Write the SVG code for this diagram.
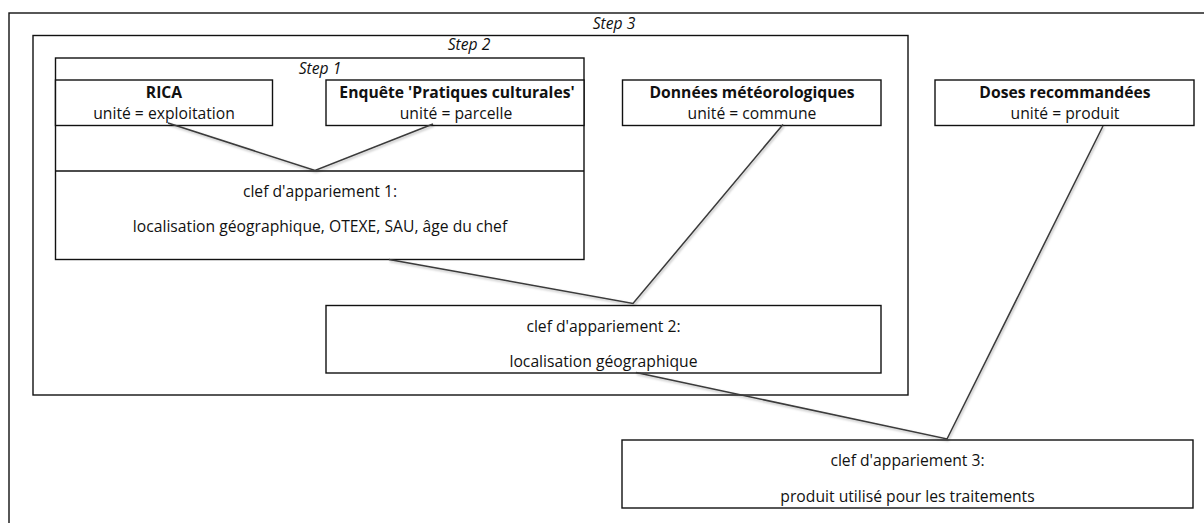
<svg xmlns="http://www.w3.org/2000/svg" width="1204" height="523" viewBox="0 0 1204 523">
<defs>
<style>
.frame{fill:none;stroke:#111;stroke-width:1.4}
.box{fill:#fff;stroke:#111;stroke-width:1.4}
.t{font-family:"Open Sans","Liberation Sans",sans-serif;font-size:15.7px;fill:#111;text-anchor:middle}
.b{font-weight:bold}
.i{font-style:italic}
.conn{stroke:#3a3a3a;stroke-width:1.5;fill:none}
</style>
<filter id="sh" x="-20%" y="-20%" width="140%" height="140%">
<feDropShadow dx="1" dy="1.5" stdDeviation="1" flood-color="#000" flood-opacity="0.3"/>
</filter>
</defs>
<rect width="1204" height="523" fill="#fff"/>
<g id="step3">
<rect class="frame" x="9" y="13" width="1300" height="600"/>
<text class="t i" x="614" y="29">Step 3</text>
</g>
<g id="step2">
<rect class="frame" x="33" y="35.5" width="875" height="359.5"/>
<text class="t i" x="469" y="50">Step 2</text>
</g>
<g id="step1">
<rect class="frame" x="55.5" y="58" width="528.5" height="201.5"/>
<line class="frame" x1="55.5" y1="171" x2="584" y2="171"/>
<text class="t i" x="320" y="74">Step 1</text>
</g>
<g id="rica">
<rect class="box" x="55.5" y="80" width="217" height="45.5"/>
<text class="t b" x="164" y="98">RICA</text>
<text class="t" x="164" y="119">unité = exploitation</text>
</g>
<g id="enquete">
<rect class="box" x="326" y="80" width="258" height="45.5"/>
<text class="t b" x="457" y="98">Enquête 'Pratiques culturales'</text>
<text class="t" x="456" y="119">unité = parcelle</text>
</g>
<g id="meteo">
<rect class="box" x="622.5" y="80" width="258.5" height="45.5"/>
<text class="t b" x="752" y="98">Données météorologiques</text>
<text class="t" x="752" y="119">unité = commune</text>
</g>
<g id="doses">
<rect class="box" x="935" y="80" width="259" height="45.5"/>
<text class="t b" x="1065" y="98">Doses recommandées</text>
<text class="t" x="1065" y="119">unité = produit</text>
</g>
<g id="clef1">
<text class="t" x="320" y="197">clef d'appariement 1:</text>
<text class="t" x="320" y="232">localisation géographique, OTEXE, SAU, âge du chef</text>
</g>
<g id="clef2">
<rect class="box" x="326" y="305.5" width="555" height="67.5"/>
<text class="t" x="603.5" y="331.5">clef d'appariement 2:</text>
<text class="t" x="603.5" y="367">localisation géographique</text>
</g>
<g id="clef3">
<rect class="box" x="622" y="440" width="571" height="68"/>
<text class="t" x="907.5" y="466">clef d'appariement 3:</text>
<text class="t" x="907.5" y="502">produit utilisé pour les traitements</text>
</g>
<g id="connectors" filter="url(#sh)">
<polyline class="conn" points="168,123 315,170.5 433,124"/>
<polyline class="conn" points="389,259.5 633,303.5 783,124.5"/>
<polyline class="conn" points="636,372.5 947,439 1103,126"/>
</g>
</svg>
